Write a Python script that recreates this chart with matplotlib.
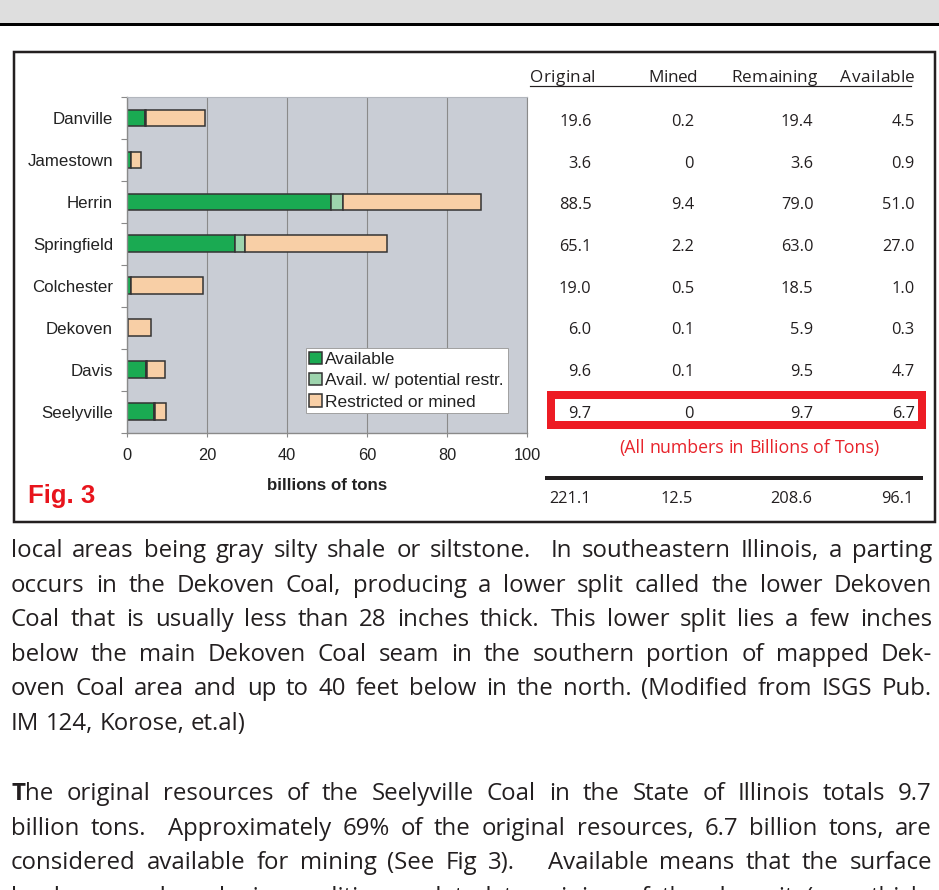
import numpy as np
import matplotlib
matplotlib.use("Agg")
import matplotlib.pyplot as plt
from matplotlib.patches import Rectangle

# data
coals = ['Danville', 'Jamestown', 'Herrin', 'Springfield',
         'Colchester', 'Dekoven', 'Davis', 'Seelyville']
original = [19.6, 3.6, 88.5, 65.1, 19.0, 6.0, 9.6, 9.7]
mined = [0.2, 0, 9.4, 2.2, 0.5, 0.1, 0.1, 0]
remaining = [19.4, 3.6, 79.0, 63.0, 18.5, 5.9, 9.5, 9.7]
available = [4.5, 0.9, 51.0, 27.0, 1.0, 0.3, 4.7, 6.7]
potential = [0.3, 0, 3.0, 2.5, 0, 0, 0.3, 0.3]   # avail. w/ potential restrictions
totals = [221.1, 12.5, 208.6, 96.1]
col_names = ['Original', 'Mined', 'Remaining', 'Available']

para1 = [
    "local areas being gray silty shale or siltstone.  In southeastern Illinois, a parting",
    "occurs in the Dekoven Coal, producing a lower split called the lower Dekoven",
    "Coal that is usually less than 28 inches thick. This lower split lies a few inches",
    "below the main Dekoven Coal seam in the southern portion of mapped Dek-",
    "oven Coal area and up to 40 feet below in the north. (Modified from ISGS Pub.",
    "IM 124, Korose, et.al)",
]
para2 = [
    "The original resources of the Seelyville Coal in the State of Illinois totals 9.7",
    "billion tons.  Approximately 69% of the original resources, 6.7 billion tons, are",
    "considered available for mining (See Fig 3).   Available means that the surface",
    "land use and geologic conditions related to mining of the deposit (e.g., thick-",
]

restricted = np.array(original) - np.array(available) - np.array(potential)

DARK = '#231f20'
RED = '#ed1c24'
PX = 0.72  # px -> pt at 100 dpi

fig = plt.figure(figsize=(9.39, 8.9), dpi=100)

# full-page overlay in pixel coordinates
page = fig.add_axes([0, 0, 1, 1])
page.set_xlim(0, 939)
page.set_ylim(890, 0)
page.axis('off')

page.add_patch(Rectangle((0, 0), 939, 22.5, color='#dedede', lw=0))
page.add_patch(Rectangle((0, 22.5), 939, 3.8, color='black', lw=0))
page.add_patch(Rectangle((14, 52), 921, 470, fill=False, edgecolor=DARK, lw=2.5 * PX))

renderer = fig.canvas.get_renderer()


def spread(tokens, y, x0, x1, justify=True, **kw):
    # lay out tokens between x0 and x1 (justified) or with normal spaces
    groups = []
    for tok in tokens:
        parts = tok if isinstance(tok, list) else [(tok, 'normal')]
        g = []
        for s, wt in parts:
            t = page.text(x0, y, s, fontweight=wt, ha='left', va='baseline', **kw)
            w = t.get_window_extent(renderer).width if s.strip() else 0.0
            g.append((t, w))
        groups.append(g)
    widths = [sum(w for _, w in g) for g in groups]
    if justify and len(groups) > 1:
        gap = (x1 - x0 - sum(widths)) / (len(groups) - 1)
    else:
        a = page.text(0, 0, 'n n', **kw)
        b = page.text(0, 0, 'nn', **kw)
        gap = a.get_window_extent(renderer).width - b.get_window_extent(renderer).width
        a.remove()
        b.remove()
    x = x0
    for g, gw in zip(groups, widths):
        xx = x
        for t, w in g:
            t.set_x(xx)
            xx += w
        x += gw + gap


# ---- bar chart ----
ax = fig.add_axes([127 / 939, 1 - 432.7 / 890, 400 / 939, 335.7 / 890])
ax.set_facecolor('#c9cdd5')
y = np.arange(len(coals))
bar_kw = dict(height=0.4, edgecolor='#333333', linewidth=1.1)
ax.barh(y, available, color='#1aaa52', label='Available', **bar_kw)
ax.barh(y, potential, left=available, color='#9dd4ad',
        label='Avail. w/ potential restr.', **bar_kw)
ax.barh(y, restricted, left=np.array(available) + np.array(potential),
        color='#f8cfa6', label='Restricted or mined', **bar_kw)

ax.set_xlim(0, 100)
ax.set_ylim(len(coals) - 0.5, -0.5)
ax.set_xticks(range(0, 101, 20))
ax.set_yticks(y)
ax.set_yticklabels(coals)
ax.set_yticks(np.arange(-0.5, len(coals)), minor=True)
ax.tick_params(axis='y', which='major', length=0, pad=10)
ax.tick_params(axis='y', which='minor', length=4.3, color='#8a8a8a', width=0.8)
ax.tick_params(axis='x', length=3, color='#8a8a8a', width=0.8, pad=8)
for lab in ax.get_yticklabels():
    lab.set_fontfamily('Liberation Sans')
    lab.set_fontsize(12.2)
    lab.set_color('#222222')
for lab in ax.get_xticklabels():
    lab.set_fontfamily('Liberation Sans')
    lab.set_fontsize(11.8)
    lab.set_color('#222222')
ax.grid(axis='x', color='#8a8a8a', lw=0.8)
ax.set_axisbelow(True)
for side in ['left', 'bottom']:
    ax.spines[side].set_color('#8a8a8a')
    ax.spines[side].set_linewidth(1.0)
ax.spines['right'].set_color('#8a8a8a')
ax.spines['right'].set_linewidth(0.8)
ax.spines['top'].set_color('#b2b6bd')
ax.spines['top'].set_linewidth(0.8)

ax.set_xlabel('billions of tons', fontfamily='Liberation Sans', fontsize=12.2,
              fontweight='bold', color='#222222')
ax.xaxis.set_label_coords(0.5, (432.7 - 485) / 335.7)
ax.xaxis.label.set_va('center')

leg = ax.legend(loc='lower left', bbox_to_anchor=(0.4475, 0.0587),
                prop={'family': 'Liberation Sans', 'size': 12.5},
                frameon=True, fancybox=False, framealpha=1, edgecolor='#a0a0a0',
                handlelength=0.72, handleheight=0.72, handletextpad=0.2,
                labelspacing=0.35, borderpad=0.2, borderaxespad=0)
leg.get_frame().set_linewidth(0.7)
for txt in leg.get_texts():
    txt.set_color('#222222')

page.text(28, 502.7, 'Fig. 3', fontsize=18.5, fontweight='bold', color='#e8141c',
          fontfamily='Liberation Sans', va='baseline', ha='left')

# ---- table ----
tkw = dict(fontfamily='Open Sans', fontsize=11.8, color=DARK)
head_x = [(530, 595), (648, 698), (731.5, 817), (840.5, 915)]
for name, (x0, x1) in zip(col_names, head_x):
    spread(list(name), 82, x0, x1, fontfamily='Open Sans', fontsize=12.3, color=DARK)
page.plot([530, 911], [85.5, 85.5], color=DARK, lw=1.2 * PX)

col_right = [591.5, 694, 813.5, 914.7]
row_base = 126 + 41.7 * np.arange(len(coals))


def fmt(v):
    return '0' if v == 0 else f'{v:.1f}'


for col, xr in zip([original, mined, remaining, available], col_right):
    for v, yb in zip(col, row_base):
        page.text(xr, yb, fmt(v), ha='right', va='baseline', **tkw)

page.add_patch(Rectangle((551, 395), 371, 29.7, fill=False, edgecolor=RED,
                         lw=8 * PX, joinstyle='miter'))
spread("(All numbers in Billions of Tons)".split(' '), 452.7, 619.5, 880,
       fontfamily='Open Sans', fontsize=12.8, color='#e8232b')

page.plot([545, 923], [478, 478], color=DARK, lw=4 * PX, solid_capstyle='butt')
for v, xr in zip(totals, col_right):
    page.text(xr - 1, 503.3, f'{v:.1f}', ha='right', va='baseline', **tkw)

# ---- body text ----
bkw = dict(fontfamily='Open Sans', fontsize=17.3, color=DARK)
for i, line in enumerate(para1):
    last = i == len(para1) - 1
    spread(line.split(' '), 557 + 34.6 * i, 11, 932, justify=not last, **bkw)
for i, line in enumerate(para2):
    toks = line.split(' ')
    if i == 0:
        toks[0] = [('T', 'bold'), ('he', 'normal')]
    spread(toks, 800 + 34.6 * i, 11, 932, **bkw)

fig.savefig('out.png', dpi=100)
